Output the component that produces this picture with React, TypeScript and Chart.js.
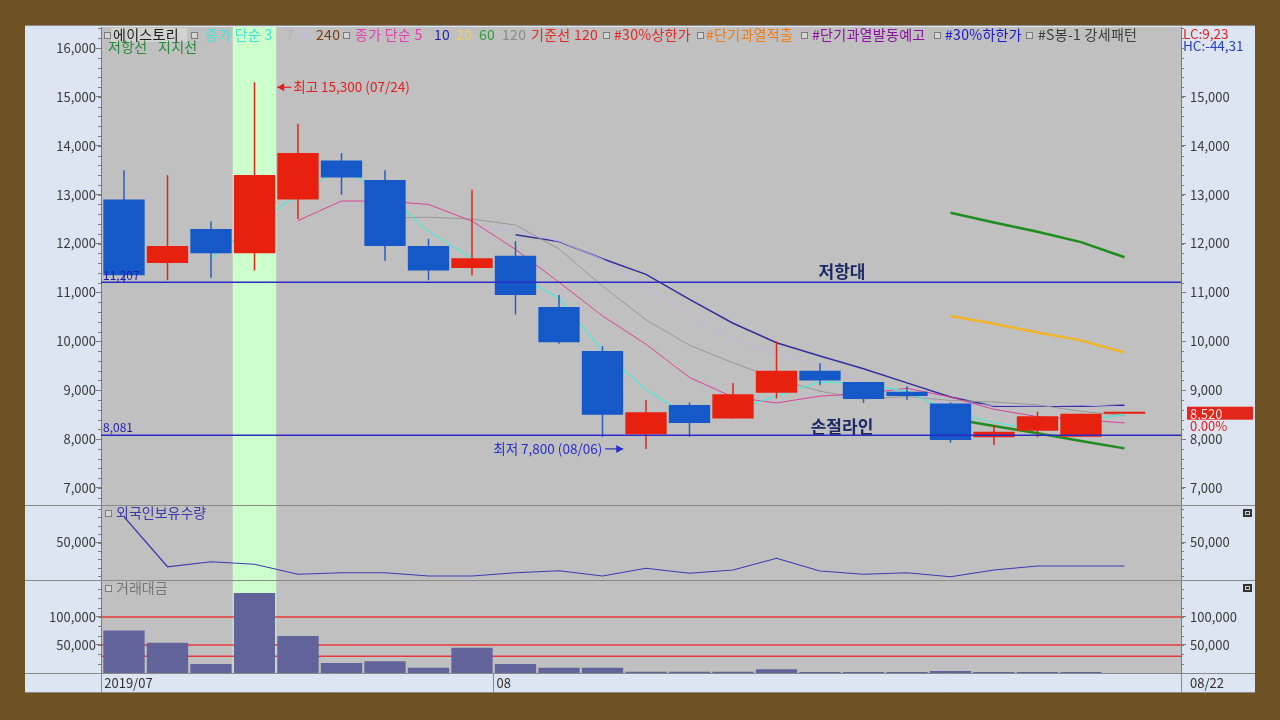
import React, { useEffect, useRef } from 'react';
import { Chart, registerables } from 'chart.js';

Chart.register(...registerables);

// ---------------- data ----------------
const dates = ['07/19', '07/22', '07/23', '07/24', '07/25', '07/26', '07/29', '07/30', '07/31', '08/01', '08/02', '08/05', '08/06', '08/07', '08/08', '08/09', '08/12', '08/13', '08/14', '08/16', '08/19', '08/20', '08/21', '08/22'];
const yearLabel = '2019';
const openP = [12900, 11600, 12300, 11800, 12900, 13700, 13300, 11950, 11500, 11750, 10700, 9800, 8100, 8700, 8420, 8950, 9400, 9170, 8970, 8730, 8040, 8170, 8050, 8520];
const highP = [13500, 13400, 12450, 15300, 14450, 13850, 13500, 12100, 13100, 12050, 10950, 9900, 8800, 8750, 9150, 10000, 9550, 9170, 9080, 8750, 8290, 8560, 8520, 8520];
const lowP = [11200, 11250, 11300, 11450, 12500, 13000, 11650, 11250, 11350, 10550, 9950, 8050, 7800, 8050, 8420, 8830, 9100, 8740, 8800, 7930, 7880, 8040, 8050, 8520];
const closeP = [11350, 11950, 11800, 13400, 13850, 13350, 11950, 11450, 11700, 10950, 9980, 8500, 8550, 8330, 8920, 9400, 9200, 8820, 8880, 7980, 8150, 8470, 8520, 8520];
const ma3 = [null, null, 11700, 12380, 13020, 13530, 13050, 12250, 11700, 11370, 10880, 9810, 9010, 8460, 8600, 8880, 9170, 9140, 8970, 8560, 8340, 8200, 8380, 8500];
const ma5 = [null, null, null, null, 12470, 12870, 12870, 12800, 12460, 11880, 11210, 10520, 9940, 9260, 8860, 8740, 8880, 8930, 9040, 8860, 8610, 8460, 8400, 8330];
const ma7 = [null, null, null, null, null, null, 12520, 12540, 12500, 12380, 11890, 11130, 10440, 9920, 9560, 9230, 8980, 8820, 8870, 8790, 8760, 8700, 8570, 8480];
const ma9 = [null, null, null, null, null, null, null, null, 12310, 12270, 12050, 11680, 11140, 10530, 10040, 9750, 9500, 9180, 8950, 8730, 8690, 8680, 8700, 8660];
const ma10 = [null, null, null, null, null, null, null, null, null, 12180, 12040, 11690, 11370, 10860, 10370, 9970, 9700, 9440, 9150, 8860, 8670, 8670, 8670, 8690];
const ma20 = [null, null, null, null, null, null, null, null, null, null, null, null, null, null, null, null, null, null, null, 10520, 10360, 10180, 10020, 9770];
const resistTrend = [null, null, null, null, null, null, null, null, null, null, null, null, null, null, null, null, null, null, null, 12630, 12430, 12240, 12030, 11720];
const supportTrend = [null, null, null, null, null, null, null, null, null, null, null, null, null, null, null, null, null, null, null, 8420, 8270, 8120, 7960, 7810];
const foreignHold = [70600, 30600, 34600, 32600, 24600, 25800, 25800, 23200, 23200, 25800, 27400, 23200, 29400, 25400, 28000, 37400, 27200, 24600, 25800, 22600, 28000, 31200, 31200, 31200];
const tradeValue = [76000, 54000, 16000, 143000, 66000, 18000, 21000, 9500, 45000, 16000, 9500, 9500, 2400, 2400, 2400, 6600, 1800, 1800, 1800, 3500, 1800, 1800, 1800, 0];
const priceTicks = [7000, 8000, 9000, 10000, 11000, 12000, 13000, 14000, 15000, 16000];
const priceTicksRight = [7000, 8000, 9000, 10000, 11000, 12000, 13000, 14000, 15000];
const foreignTicks = [50000];
const valueTicks = [50000, 100000];
const valueGuides = [100000, 50000, 30000];
const resistLevel = 11207;
const stopLevel = 8081;
const highlightIndex = 3;
const lcText = 'LC:9,23';
const hcText = 'HC:-44,31';
const changeText = '0.00%';

// ---------------- style ----------------
const FONT = '"Noto Sans CJK KR", "Noto Sans", sans-serif';
const AXIS_BG = '#DCE5F1';
const PLOT_BG = '#C0C0C0';
const BAND_BG = '#CCFFCC';
const FRAME = '#6F5224';
const EDGE = '#8A8A8A';
const UP = '#E8200E';
const DOWN = '#1559C8';
const X_MIN = -0.5287;
const X_MAX = 24.299;

const fmt = (n: number) => String(Math.round(n)).replace(/\B(?=(\d{3})+(?!\d))/g, ',');
const idx = dates.map((_, i) => i);

function xAxis() {
  return {
    type: 'linear', min: X_MIN, max: X_MAX, display: false, offset: false,
    grid: { offset: false },
    afterBuildTicks: (s: any) => { s.ticks = dates.map((_, i) => ({ value: i })); },
  };
}

function yAxis(position: 'left' | 'right', min: number, max: number, tickVals: number[]) {
  const left = position === 'left';
  return {
    type: 'linear', position, min, max, beginAtZero: false,
    afterFit: (s: any) => { s.width = left ? 76 : 74; s.paddingTop = 0; s.paddingBottom = 0; },
    afterBuildTicks: (s: any) => { s.ticks = tickVals.map((v) => ({ value: v })); },
    ticks: { callback: (v: any) => fmt(Number(v)), color: '#3a3a3a', font: { family: FONT, size: 13 }, padding: left ? 0 : 4 },
    grid: { drawOnChartArea: false, drawTicks: true, tickLength: 5, color: '#7c7c7c', lineWidth: 1 },
    border: { display: true, color: '#7c7c7c', width: 1 },
  };
}

function lineDs(label: string, arr: (number | null)[], color: string, width: number, order: number) {
  return {
    type: 'line', label, data: arr.map((v, i) => ({ x: i, y: v })), borderColor: color,
    borderWidth: width, pointRadius: 0, tension: 0, order, spanGaps: false,
  };
}

function levelDs(level: number, color: string, width: number, order: number) {
  return {
    type: 'line', data: [{ x: X_MIN, y: level }, { x: X_MAX, y: level }], borderColor: color,
    borderWidth: width, pointRadius: 0, order,
  };
}

function text(ctx: any, s: string, x: number, y: number, color: string, font: string, align = 'left', spacing = '0px') {
  ctx.font = font; ctx.fillStyle = color; ctx.textAlign = align; ctx.textBaseline = 'middle';
  if ('letterSpacing' in ctx) ctx.letterSpacing = spacing;
  ctx.fillText(s, x, y);
  if ('letterSpacing' in ctx) ctx.letterSpacing = '0px';
}

function hline(ctx: any, x0: number, x1: number, y: number, color: string) {
  ctx.strokeStyle = color; ctx.lineWidth = 1; ctx.beginPath(); ctx.moveTo(x0, y); ctx.lineTo(x1, y); ctx.stroke();
}
function vline(ctx: any, x: number, y0: number, y1: number, color: string) {
  ctx.strokeStyle = color; ctx.lineWidth = 1; ctx.beginPath(); ctx.moveTo(x, y0); ctx.lineTo(x, y1); ctx.stroke();
}

function drawIcon(ctx: any, x: number, cy: number) {
  ctx.fillStyle = '#7c7c7c'; ctx.fillRect(x, cy - 3, 7, 7);
  ctx.fillStyle = '#d6d6d6'; ctx.fillRect(x + 1, cy - 2, 5, 5);
}

function drawCorner(ctx: any, y: number) {
  ctx.fillStyle = '#333'; ctx.fillRect(1243, y, 9, 8);
  ctx.fillStyle = '#cfcfcf'; ctx.fillRect(1245, y + 2, 5, 4);
  ctx.fillStyle = '#333'; ctx.fillRect(1246, y + 3, 3, 2);
}

function arrow(ctx: any, x0: number, y: number, x1: number, color: string) {
  ctx.strokeStyle = color; ctx.fillStyle = color; ctx.lineWidth = 1.2;
  ctx.beginPath(); ctx.moveTo(x0, y); ctx.lineTo(x1, y); ctx.stroke();
  const d = x1 > x0 ? 1 : -1;
  ctx.beginPath(); ctx.moveTo(x1, y); ctx.lineTo(x1 - d * 7, y - 4); ctx.lineTo(x1 - d * 7, y + 4); ctx.closePath(); ctx.fill();
}

function panelBack(chart: any, yTop: number, yBottom: number) {
  const { ctx, chartArea: a, scales } = chart;
  ctx.fillStyle = AXIS_BG; ctx.fillRect(25, yTop, 1230, yBottom - yTop);
  ctx.fillStyle = PLOT_BG; ctx.fillRect(a.left, a.top, a.right - a.left, a.bottom - a.top);
  const b0 = scales.x.getPixelForValue(highlightIndex - 0.5);
  const b1 = scales.x.getPixelForValue(highlightIndex + 0.5);
  ctx.fillStyle = BAND_BG; ctx.fillRect(b0, a.top, b1 - b0, a.bottom - a.top);
}

function minorTicks(chart: any, anchor: number, step: number) {
  const { ctx, chartArea: a } = chart;
  const ys = chart.scales.y;
  let v = anchor - Math.floor((anchor - ys.min) / step) * step;
  ctx.strokeStyle = '#7c7c7c'; ctx.lineWidth = 1; ctx.beginPath();
  for (; v <= ys.max; v += step) {
    const p = Math.round(ys.getPixelForValue(v)) + 0.5;
    ctx.moveTo(a.left - 3, p); ctx.lineTo(a.left, p);
    ctx.moveTo(a.right, p); ctx.lineTo(a.right + 3, p);
  }
  ctx.stroke();
}

const legendRow: [number, string | null, string?][] = [
  [104, null], [113, '에이스토리', '#1c1c1c'], [191, null], [205, '종가 단순 3', '#44E2D2'],
  [286, '7', '#B2B2B2'], [300, '9', '#C9B6EA'], [316, '240', '#7C3C14'], [343, null],
  [355, '종가 단순 5', '#E040B0'], [434, '10', '#2424A4'], [456, '20', '#EED068'], [479, '60', '#2E9E3E'],
  [502, '120', '#8A8A8A'], [531, '기준선 120', '#E22828'], [603, null], [614, '#30%상한가', '#E22828'],
  [697, null], [706, '#단기과열적출', '#F07A10'], [801, null], [812, '#단기과열발동예고', '#8A0EA0'],
  [934, null], [945, '#30%하한가', '#1818D0'], [1026, null], [1038, '#S봉-1 강세패턴', '#3C3C3C'],
];

const mainDeco = {
  id: 'mainDeco',
  beforeDraw(chart: any) {
    const { ctx } = chart;
    ctx.save();
    panelBack(chart, 25, 505);
    hline(ctx, 25, 1255, 25.5, EDGE);
    ctx.restore();
  },
  afterDraw(chart: any) {
    const { ctx, scales } = chart;
    const xs = scales.x, ys = scales.y;
    ctx.save();
    minorTicks(chart, 1000, 200);
    // legend
    ctx.fillStyle = '#D2D2D2'; ctx.fillRect(111, 28, 76, 14);
    const lf = `14px ${FONT}`;
    legendRow.forEach(([x, t, c]) => {
      if (t === null) drawIcon(ctx, x, 35);
      else text(ctx, t, x, 35, c as string, lf, 'left', '0.3px');
    });
    text(ctx, '저항선', 108, 47, '#2A8A3A', lf, 'left', '0.3px');
    text(ctx, '지지선', 158, 47, '#2A8A3A', lf, 'left', '0.3px');
    // level labels
    const pr = ys.getPixelForValue(resistLevel), ps = ys.getPixelForValue(stopLevel);
    text(ctx, fmt(resistLevel), 103, pr - 7, '#1c1cb0', `12px ${FONT}`);
    text(ctx, fmt(stopLevel), 103, ps - 8, '#1c1cb0', `12px ${FONT}`);
    text(ctx, '저항대', 842, pr - 11, '#1b2a66', `bold 17px ${FONT}`, 'center');
    text(ctx, '손절라인', 842, ps - 9, '#1b2a66', `bold 17px ${FONT}`, 'center');
    // high / low annotation
    const hi = highP.indexOf(Math.max(...highP));
    const lo = lowP.indexOf(Math.min(...lowP));
    const hx = xs.getPixelForValue(hi + 0.5), hy = ys.getPixelForValue(highP[hi]) + 5;
    arrow(ctx, hx + 15, hy, hx + 1, '#E02020');
    text(ctx, `최고 ${fmt(highP[hi])} (${dates[hi]})`, hx + 17, hy, '#E02020', `13.5px ${FONT}`);
    const lx = xs.getPixelForValue(lo - 0.5), ly = ys.getPixelForValue(lowP[lo]);
    arrow(ctx, lx - 19, ly, lx - 1, '#2830C8');
    text(ctx, `최저 ${fmt(lowP[lo])} (${dates[lo]})`, lx - 22, ly, '#2830C8', `13.5px ${FONT}`, 'right');
    // right side info
    text(ctx, lcText, 1183, 34, '#E02020', `13.5px ${FONT}`);
    text(ctx, hcText, 1183, 46, '#2440C0', `13.5px ${FONT}`);
    const last = closeP[closeP.length - 1];
    const pp = scales.yR.getPixelForValue(last);
    ctx.fillStyle = '#E3261C'; ctx.fillRect(1187, pp - 7, 66, 13);
    text(ctx, fmt(last), 1190, pp, '#FFE2DC', `13px ${FONT}`);
    text(ctx, changeText, 1190, pp + 12, '#E02020', `13px ${FONT}`);
    ctx.restore();
  },
};

const foreignDeco = {
  id: 'foreignDeco',
  beforeDraw(chart: any) {
    const { ctx } = chart;
    ctx.save();
    panelBack(chart, 0, 75);
    ctx.restore();
  },
  afterDraw(chart: any) {
    const { ctx } = chart;
    ctx.save();
    minorTicks(chart, 50000, 6667);
    hline(ctx, 25, 1255, 0.5, EDGE);
    drawIcon(ctx, 105, 8);
    text(ctx, '외국인보유수량', 116, 8, '#3A3AA8', `14px ${FONT}`);
    drawCorner(ctx, 4);
    ctx.restore();
  },
};

const volumeDeco = {
  id: 'volumeDeco',
  beforeDraw(chart: any) {
    const { ctx } = chart;
    ctx.save();
    panelBack(chart, 0, 112);
    ctx.restore();
  },
  afterDraw(chart: any) {
    const { ctx, chartArea: a, scales } = chart;
    ctx.save();
    minorTicks(chart, 50000, 16667);
    hline(ctx, 25, 1255, 0.5, EDGE);
    drawIcon(ctx, 105, 8);
    text(ctx, '거래대금', 116, 8, '#767676', `14px ${FONT}`);
    drawCorner(ctx, 4);
    // date strip
    const top = a.bottom;
    ctx.fillStyle = AXIS_BG; ctx.fillRect(25, top, 1230, 19);
    hline(ctx, 25, 1255, top + 0.5, EDGE);
    hline(ctx, 25, 1255, top + 19.5, EDGE);
    vline(ctx, a.left + 0.5, top, top + 19, EDGE);
    vline(ctx, a.right + 0.5, top, top + 19, EDGE);
    const f = `13px ${FONT}`;
    text(ctx, `${yearLabel}/${dates[0].slice(0, 2)}`, scales.x.getPixelForValue(-0.5) + 2, top + 10, '#303030', f);
    for (let i = 1; i < dates.length; i++) {
      if (dates[i].slice(0, 2) !== dates[i - 1].slice(0, 2)) {
        const sx = Math.round(scales.x.getPixelForValue(i - 0.5)) - 0.5;
        vline(ctx, sx, top, top + 19, EDGE);
        text(ctx, dates[i].slice(0, 2), sx + 3, top + 10, '#303030', f);
      }
    }
    text(ctx, dates[dates.length - 1], 1190, top + 10, '#303030', f);
    ctx.restore();
  },
};

function baseOptions(padding: any, scales: any) {
  return {
    responsive: false, animation: false, events: [],
    layout: { padding },
    plugins: { legend: { display: false }, tooltip: { enabled: false } },
    scales,
  };
}

function buildMain(canvas: HTMLCanvasElement) {
  const bodyColors = idx.map((i) => (closeP[i] >= openP[i] ? UP : DOWN));
  const wickColors = idx.map((i) => (closeP[i] >= openP[i] ? '#D8281A' : '#2A5CB8'));
  return new Chart(canvas, {
    type: 'bar',
    data: {
      datasets: [
        levelDs(resistLevel, '#2A2AC4', 1.5, -2),
        levelDs(stopLevel, '#2A2AC4', 1.5, -1),
        {
          type: 'bar', label: 'body', data: idx.map((i) => ({ x: i, y: [openP[i], closeP[i]] })),
          backgroundColor: bodyColors, grouped: false, barPercentage: 0.95, categoryPercentage: 1,
          minBarLength: 2, order: 0,
        },
        {
          type: 'bar', label: 'wick', data: idx.map((i) => ({ x: i, y: [lowP[i], highP[i]] })),
          backgroundColor: wickColors, grouped: false, maxBarThickness: 1.5, order: 1,
        },
        lineDs('3', ma3, '#50E6D6', 1.2, 2),
        lineDs('5', ma5, '#D8449C', 1, 3),
        lineDs('7', ma7, '#989898', 1, 4),
        lineDs('9', ma9, '#C4B4E4', 1, 5),
        lineDs('10', ma10, '#30309A', 1.5, 6),
        lineDs('20', ma20, '#F0B428', 2.5, 7),
        lineDs('resist', resistTrend, '#1E8C1E', 2.5, 8),
        lineDs('support', supportTrend, '#1E8C1E', 2.5, 9),
      ],
    } as any,
    options: baseOptions({ left: 25, right: 25, top: 27, bottom: 0 }, {
      x: xAxis(),
      y: yAxis('left', 6652, 16430, priceTicks),
      yR: yAxis('right', 6652, 16430, priceTicksRight),
    }) as any,
    plugins: [mainDeco],
  });
}

function buildForeign(canvas: HTMLCanvasElement) {
  return new Chart(canvas, {
    type: 'line',
    data: { datasets: [lineDs('외국인보유수량', foreignHold, '#3C3CB0', 1.2, 0)] } as any,
    options: baseOptions({ left: 25, right: 25, top: 0, bottom: 0 }, {
      x: xAxis(),
      y: yAxis('left', 20000, 80000, foreignTicks),
      yR: yAxis('right', 20000, 80000, foreignTicks),
    }) as any,
    plugins: [foreignDeco],
  });
}

function buildVolume(canvas: HTMLCanvasElement) {
  return new Chart(canvas, {
    type: 'bar',
    data: {
      datasets: [
        {
          type: 'bar', label: '거래대금', data: tradeValue.map((v, i) => ({ x: i, y: v })),
          backgroundColor: '#63639B', grouped: false, barPercentage: 0.95, categoryPercentage: 1, order: 0,
        },
        ...valueGuides.map((g) => levelDs(g, '#E63B3B', 1.5, 5)),
      ],
    } as any,
    options: baseOptions({ left: 25, right: 25, top: 0, bottom: 47 }, {
      x: xAxis(),
      y: yAxis('left', 0, 166000, valueTicks),
      yR: yAxis('right', 0, 166000, valueTicks),
    }) as any,
    plugins: [volumeDeco],
  });
}

export default function App() {
  const mainRef = useRef<HTMLCanvasElement>(null);
  const forRef = useRef<HTMLCanvasElement>(null);
  const volRef = useRef<HTMLCanvasElement>(null);
  useEffect(() => {
    const charts = [buildMain(mainRef.current!), buildForeign(forRef.current!), buildVolume(volRef.current!)];
    return () => charts.forEach((c) => c.destroy());
  }, []);
  return (
    <div style={{ position: 'fixed', left: 0, top: 0, width: 1280, height: 720, background: FRAME, overflow: 'hidden' }}>
      <canvas ref={mainRef} width={1280} height={505} style={{ position: 'absolute', left: 0, top: 0 }} />
      <canvas ref={forRef} width={1280} height={75} style={{ position: 'absolute', left: 0, top: 505 }} />
      <canvas ref={volRef} width={1280} height={140} style={{ position: 'absolute', left: 0, top: 580 }} />
    </div>
  );
}
